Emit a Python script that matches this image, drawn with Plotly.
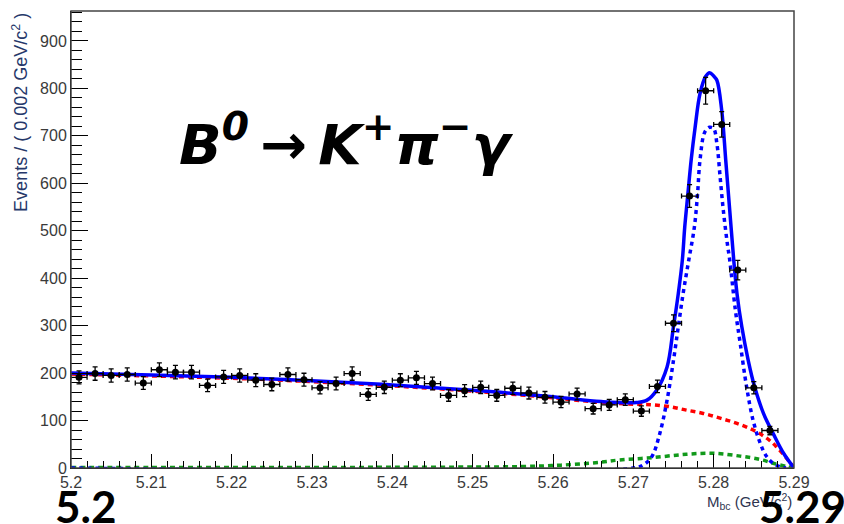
import numpy as np
import plotly.graph_objects as go

# ---- data ----
bin_centers = [5.201, 5.203, 5.205, 5.207, 5.209, 5.211, 5.213, 5.215, 5.217, 5.219,
               5.221, 5.223, 5.225, 5.227, 5.229, 5.231, 5.233, 5.235, 5.237, 5.239,
               5.241, 5.243, 5.245, 5.247, 5.249, 5.251, 5.253, 5.255, 5.257, 5.259,
               5.261, 5.263, 5.265, 5.267, 5.269, 5.271, 5.273, 5.275, 5.277, 5.279,
               5.281, 5.283, 5.285, 5.287]
counts = [191, 199, 195, 197, 179, 207, 202, 202, 174, 192,
          195, 185, 176, 197, 186, 169, 178, 199, 155, 170,
          185, 190, 178, 153, 163, 170, 153, 168, 158, 149,
          139, 156, 125, 133, 144, 120, 172, 305, 573, 795,
          724, 417, 169, 79]
bin_half_width = 0.001

total_x = [5.200, 5.210, 5.220, 5.230, 5.240, 5.250, 5.260, 5.266, 5.2704, 5.2717,
           5.2729, 5.2742, 5.2750, 5.2756, 5.2761, 5.2764, 5.2768, 5.2772, 5.2777, 5.2783,
           5.2790, 5.2795, 5.2800, 5.2804, 5.2810, 5.2815, 5.2820, 5.2825, 5.2829, 5.2835,
           5.2843, 5.2851, 5.2862, 5.2874, 5.2887, 5.2900]
total_y = [200, 196, 191, 184, 175, 164, 150, 140, 138, 143,
           164, 213, 298, 368, 438, 508, 579, 649, 719, 789,
           825, 833, 826, 817, 754, 649, 543, 438, 368, 298,
           227, 171, 115, 73, 31, 0]

signal_x = [5.200, 5.2700, 5.2712, 5.2723, 5.2733, 5.2742, 5.2750, 5.2756, 5.2762, 5.2769,
            5.2776, 5.2780, 5.2783, 5.2789, 5.2795, 5.2800, 5.2804, 5.2808, 5.2812, 5.2817,
            5.2820, 5.2827, 5.2833, 5.2841, 5.2849, 5.2858, 5.2866, 5.2874, 5.2882, 5.2890]
signal_y = [0, 0, 6, 24, 73, 143, 227, 298, 368, 438,
            508, 579, 649, 708, 718, 715, 684, 614, 543, 473,
            438, 333, 263, 171, 101, 52, 24, 10, 3, 0]

argus_x = [5.200, 5.210, 5.220, 5.230, 5.240, 5.250, 5.260, 5.266, 5.2708, 5.2725,
           5.2746, 5.2766, 5.2787, 5.2808, 5.2829, 5.2849, 5.2866, 5.2878, 5.2891, 5.2900]
argus_y = [198, 194, 189, 182, 173, 162, 148, 138, 134, 133,
           129, 122, 115, 105, 94, 80, 63, 45, 20, 0]

peaking_x = [5.200, 5.210, 5.220, 5.230, 5.240, 5.250, 5.256, 5.261, 5.2658, 5.2683,
             5.2725, 5.2766, 5.2800, 5.2833, 5.2858, 5.2874, 5.2891, 5.2900]
peaking_y = [1, 1, 1, 1, 1.5, 2, 3, 6, 12, 17,
             22, 29, 31, 25, 18, 10, 3, 0]

x_tickvals = [5.20, 5.21, 5.22, 5.23, 5.24, 5.25, 5.26, 5.27, 5.28, 5.29]
x_ticktext = ["5.2", "5.21", "5.22", "5.23", "5.24", "5.25", "5.26", "5.27", "5.28", "5.29"]

# ---- figure ----
fig = go.Figure()

fig.add_trace(go.Scatter(x=peaking_x, y=peaking_y, mode="lines", line_shape="spline",
                         line=dict(color="#11991a", width=3.5, dash="5px,4px"), hoverinfo="skip"))
fig.add_trace(go.Scatter(x=argus_x, y=argus_y, mode="lines", line_shape="spline",
                         line=dict(color="#ff0000", width=3.5, dash="5px,4px"), hoverinfo="skip"))
fig.add_trace(go.Scatter(x=signal_x, y=signal_y, mode="lines", line_shape="spline",
                         line=dict(color="#0000ff", width=3.5, dash="4px,4px"), hoverinfo="skip"))
fig.add_trace(go.Scatter(x=total_x, y=total_y, mode="lines", line_shape="spline",
                         line=dict(color="#0000ff", width=3.5), hoverinfo="skip"))

errs = np.sqrt(np.array(counts, dtype=float))
fig.add_trace(go.Scatter(
    x=bin_centers, y=counts, mode="markers",
    marker=dict(color="black", size=7, symbol="circle"),
    error_y=dict(type="data", array=errs, color="black", thickness=1.3, width=2.5),
    error_x=dict(type="data", array=[bin_half_width] * len(bin_centers), color="black", thickness=1.3, width=2.5),
))

tickfont = dict(family="Liberation Sans, Arial, sans-serif", size=16, color="#3a3a3a")

fig.update_xaxes(range=[5.2, 5.29], tickmode="array", tickvals=x_tickvals, ticktext=x_ticktext,
                 ticks="inside", ticklen=14, tickwidth=1, tickcolor="black",
                 showline=True, linecolor="black", linewidth=1,
                 showgrid=False, zeroline=False, tickfont=tickfont,
                 minor=dict(tick0=5.2, dtick=0.002, ticks="inside", ticklen=7,
                            tickcolor="black", tickwidth=1, showgrid=False))
fig.update_yaxes(range=[0, 963], tick0=0, dtick=100,
                 ticks="inside", ticklen=17, tickwidth=1, tickcolor="black",
                 showline=True, linecolor="black", linewidth=1,
                 showgrid=False, zeroline=False, tickfont=tickfont,
                 minor=dict(tick0=0, dtick=20, ticks="inside", ticklen=11,
                            tickcolor="black", tickwidth=1, showgrid=False))

fig.add_shape(type="rect", xref="paper", yref="paper", x0=0, y0=0, x1=1, y1=1,
              line=dict(color="#444444", width=1.5), fillcolor="rgba(0,0,0,0)", layer="above")

fig.update_layout(
    width=844, height=524,
    margin=dict(l=71, r=50, t=11, b=56),
    plot_bgcolor="white", paper_bgcolor="white",
    showlegend=False,
    annotations=[
        dict(text="Events / ( 0.002 GeV/c<sup>2</sup> )", textangle=-90,
             xref="paper", yref="paper", x=-0.07, y=1.0, xanchor="center", yanchor="top",
             showarrow=False, font=dict(family="Liberation Sans, Arial, sans-serif", size=18, color="#26386a")),
        dict(text="M<sub>bc</sub> (GeV/c<sup>2</sup>)",
             xref="paper", yref="paper", x=1.0, y=-0.046, xanchor="right", yanchor="top",
             showarrow=False, font=dict(family="Liberation Sans, Arial, sans-serif", size=15, color="#2f3550")),
        dict(text="<b><i>B<sup>0</sup>\u2009→\u2009K<sup>+</sup>π<sup>−</sup>γ</i></b>",
             xref="paper", yref="paper", x=0.3804, y=0.7156, xanchor="center", yanchor="middle",
             showarrow=False, font=dict(family="DejaVu Sans, sans-serif", size=56, color="black")),
        dict(text="<b>5.2</b>",
             xref="paper", yref="paper", x=-0.025, y=-0.0836, xanchor="left", yanchor="middle",
             showarrow=False, font=dict(family="Lato, sans-serif", size=44, color="black")),
        dict(text="<b>5.29</b>",
             xref="paper", yref="paper", x=1.075, y=-0.0836, xanchor="right", yanchor="middle",
             showarrow=False, font=dict(family="Lato, sans-serif", size=44, color="black")),
    ],
)

fig.write_html("out.html")
